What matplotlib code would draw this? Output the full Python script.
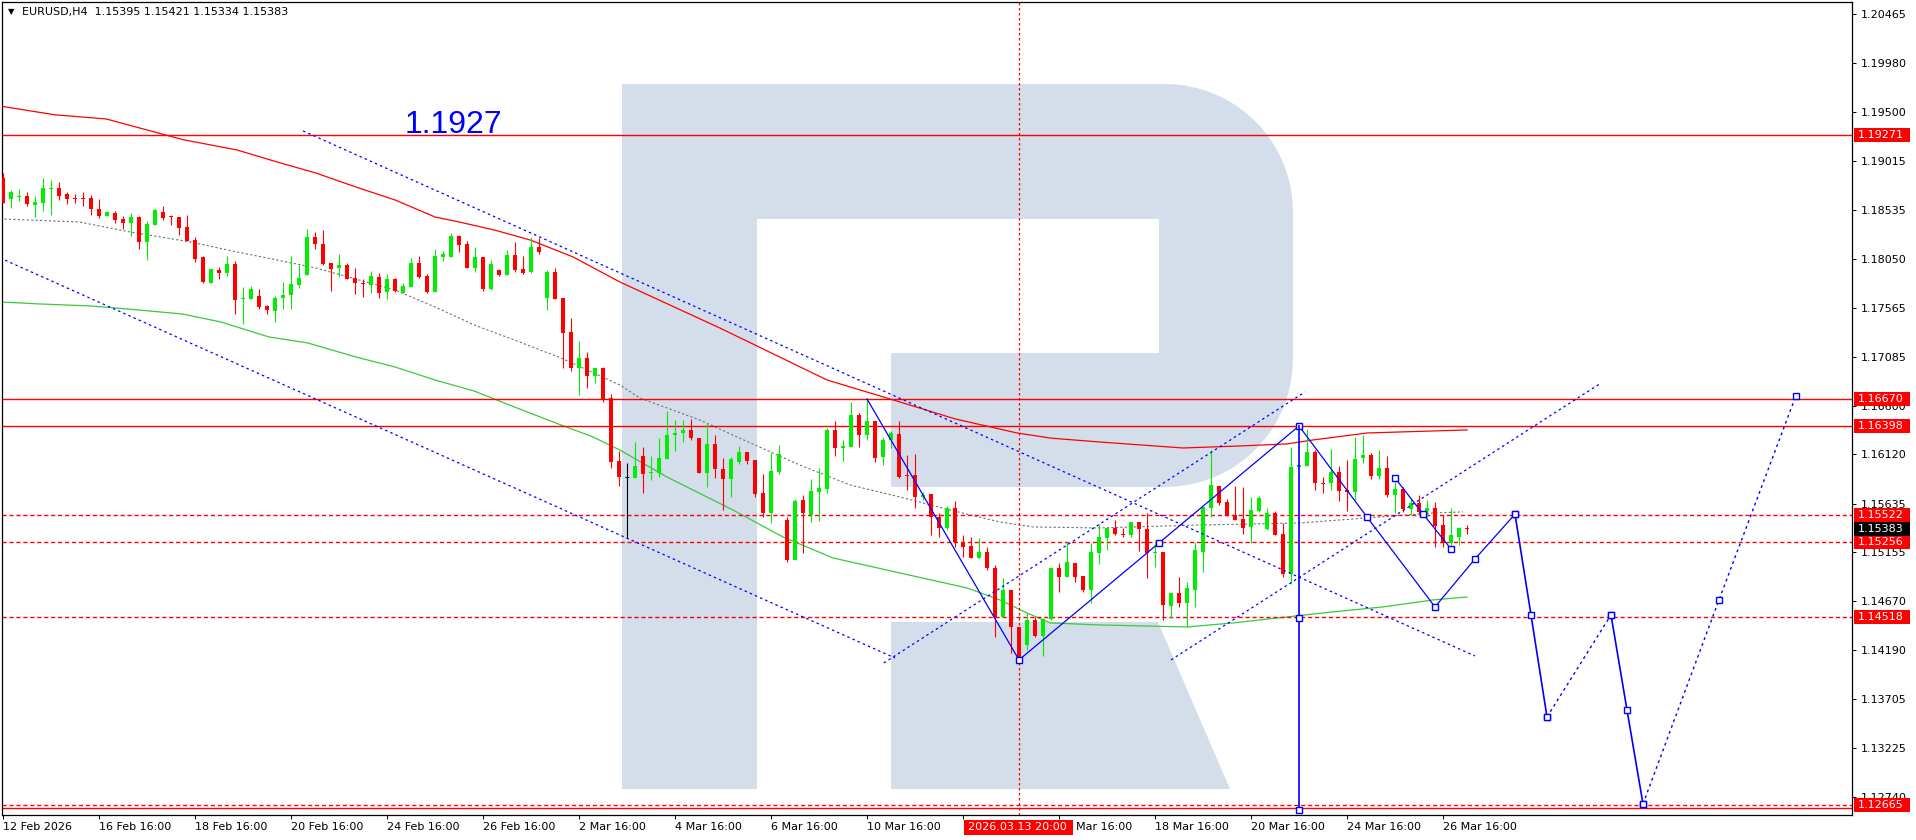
import matplotlib
matplotlib.use("Agg")
import matplotlib.pyplot as plt
import numpy as np
from matplotlib.patches import Rectangle, Polygon
from matplotlib import transforms

# ---- candles (EURUSD H4), bar index 0..183 ----
opens = [1.18843, 1.18643, 1.18662, 1.18669, 1.18583, 1.18603, 1.18738, 1.18748, 1.18689, 1.18646,
         1.18646, 1.18646, 1.18537, 1.18475, 1.18498, 1.18439, 1.18406, 1.18462, 1.18218, 1.18379,
         1.18511, 1.18465, 1.18458, 1.18360, 1.18235, 1.18064, 1.17814, 1.17939, 1.17906, 1.17998,
         1.17649, 1.17649, 1.17682, 1.17587, 1.17537, 1.17666, 1.17689, 1.17794, 1.17893, 1.18264,
         1.18195, 1.18004, 1.17955, 1.17988, 1.17860, 1.17810, 1.17794, 1.17870, 1.17718, 1.17853,
         1.17715, 1.17774, 1.18008, 1.17876, 1.17725, 1.18070, 1.18070, 1.18274, 1.18195, 1.17962,
         1.18067, 1.17751, 1.17939, 1.17893, 1.18087, 1.17949, 1.17922, 1.18169, 1.17666, 1.17919,
         1.17666, 1.17327, 1.16975, 1.17070, 1.16896, 1.16971, 1.16672, 1.16054, 1.15893, 1.15890,
         1.16104, 1.15933, 1.15939, 1.16078, 1.16308, 1.16328, 1.16361, 1.16278, 1.15939, 1.16222,
         1.15972, 1.15874, 1.16048, 1.16147, 1.16064, 1.15742, 1.15538, 1.15949, 1.15472, 1.15077,
         1.15670, 1.15521, 1.15752, 1.15778, 1.16361, 1.16186, 1.16196, 1.16509, 1.16311, 1.16449,
         1.16091, 1.16262, 1.16321, 1.15913, 1.15916, 1.15702, 1.15729, 1.15505, 1.15390, 1.15587,
         1.15252, 1.15216, 1.15094, 1.15160, 1.14995, 1.14518, 1.14781, 1.14413, 1.14239, 1.14485,
         1.14327, 1.14492, 1.14995, 1.14913, 1.15051, 1.14919, 1.14781, 1.15143, 1.15291, 1.15390,
         1.15334, 1.15324, 1.15449, 1.15380, 1.15143, 1.15153, 1.14627, 1.14748, 1.14650, 1.14781,
         1.15160, 1.15594, 1.15808, 1.15653, 1.15522, 1.15479, 1.15400, 1.15564, 1.15380, 1.15538,
         1.15334, 1.14936, 1.15992, 1.16005, 1.16147, 1.15834, 1.15834, 1.15949, 1.15768, 1.15752,
         1.16088, 1.16114, 1.15906, 1.15982, 1.15719, 1.15775, 1.15577, 1.15637, 1.15564, 1.15591,
         1.15420, 1.15249, 1.15308, 1.15395]
highs = [1.18899, 1.18728, 1.18735, 1.18708, 1.18669, 1.18847, 1.18827, 1.18807, 1.18708, 1.18689,
         1.18708, 1.18676, 1.18636, 1.18511, 1.18518, 1.18472, 1.18501, 1.18472, 1.18422, 1.18541,
         1.18570, 1.18478, 1.18465, 1.18481, 1.18268, 1.18077, 1.17949, 1.17965, 1.18077, 1.18031,
         1.17774, 1.17781, 1.17754, 1.17597, 1.17685, 1.17820, 1.18077, 1.17988, 1.18343, 1.18317,
         1.18333, 1.18004, 1.18097, 1.18004, 1.17958, 1.17847, 1.17925, 1.17912, 1.17899, 1.17863,
         1.17814, 1.18060, 1.18077, 1.17899, 1.18146, 1.18129, 1.18301, 1.18281, 1.18225, 1.18166,
         1.18067, 1.18037, 1.17952, 1.18136, 1.18215, 1.18077, 1.18261, 1.18254, 1.17939, 1.17958,
         1.17666, 1.17465, 1.17238, 1.17133, 1.16971, 1.16985, 1.16715, 1.16153, 1.16032, 1.16245,
         1.16190, 1.16104, 1.16285, 1.16548, 1.16459, 1.16459, 1.16466, 1.16278, 1.16433, 1.16311,
         1.16081, 1.16097, 1.16203, 1.16147, 1.16064, 1.15926, 1.16137, 1.16213, 1.15505, 1.15680,
         1.15719, 1.15874, 1.15982, 1.16377, 1.16449, 1.16262, 1.16640, 1.16532, 1.16663, 1.16449,
         1.16288, 1.16354, 1.16449, 1.16114, 1.16124, 1.15752, 1.15729, 1.15545, 1.15610, 1.15660,
         1.15324, 1.15301, 1.15298, 1.15209, 1.15028, 1.14896, 1.14781, 1.14413, 1.14551, 1.14511,
         1.14502, 1.14995, 1.15051, 1.15258, 1.15051, 1.14919, 1.15242, 1.15433, 1.15390, 1.15472,
         1.15390, 1.15456, 1.15456, 1.15545, 1.15242, 1.15153, 1.14748, 1.14913, 1.14864, 1.15258,
         1.15604, 1.16163, 1.15808, 1.15676, 1.15808, 1.15795, 1.15703, 1.15709, 1.15587, 1.15564,
         1.15446, 1.16196, 1.16015, 1.16367, 1.16163, 1.15900, 1.16170, 1.16005, 1.16064, 1.16295,
         1.16311, 1.16130, 1.16163, 1.16104, 1.15884, 1.15801, 1.15676, 1.15719, 1.15670, 1.15653,
         1.15522, 1.15587, 1.15406, 1.15421]
lows = [1.18597, 1.18554, 1.18623, 1.18570, 1.18465, 1.18521, 1.18478, 1.18630, 1.18587, 1.18597,
        1.18570, 1.18485, 1.18455, 1.18475, 1.18406, 1.18347, 1.18278, 1.18146, 1.18041, 1.18379,
        1.18432, 1.18379, 1.18281, 1.18228, 1.18014, 1.17810, 1.17814, 1.17847, 1.17883, 1.17508,
        1.17409, 1.17649, 1.17557, 1.17501, 1.17429, 1.17554, 1.17550, 1.17764, 1.17893, 1.18149,
        1.17988, 1.17735, 1.17870, 1.17853, 1.17705, 1.17675, 1.17708, 1.17666, 1.17656, 1.17721,
        1.17708, 1.17774, 1.17856, 1.17708, 1.17725, 1.18024, 1.18070, 1.18116, 1.17962, 1.17919,
        1.17735, 1.17738, 1.17883, 1.17893, 1.17919, 1.17899, 1.17906, 1.18093, 1.17544, 1.17656,
        1.16971, 1.16945, 1.16705, 1.16777, 1.16827, 1.16639, 1.15982, 1.15808, 1.15291, 1.15890,
        1.15742, 1.15867, 1.15893, 1.16078, 1.16157, 1.16245, 1.16262, 1.15933, 1.15801, 1.15883,
        1.15571, 1.15696, 1.16025, 1.16025, 1.15703, 1.15498, 1.15446, 1.15926, 1.15061, 1.15077,
        1.15143, 1.15456, 1.15466, 1.15742, 1.16104, 1.16058, 1.16196, 1.16196, 1.16262, 1.16048,
        1.16015, 1.16180, 1.15883, 1.15768, 1.15587, 1.15670, 1.15324, 1.15308, 1.15374, 1.15209,
        1.15110, 1.15094, 1.15094, 1.14979, 1.14314, 1.14511, 1.14156, 1.14091, 1.14189, 1.14321,
        1.14130, 1.14485, 1.14765, 1.14913, 1.14864, 1.14762, 1.14656, 1.15035, 1.15176, 1.15324,
        1.15308, 1.15308, 1.15170, 1.14896, 1.15012, 1.14485, 1.14502, 1.14617, 1.14420, 1.14617,
        1.14962, 1.15505, 1.15620, 1.15512, 1.15472, 1.15334, 1.15242, 1.15554, 1.15374, 1.15324,
        1.14906, 1.14841, 1.15992, 1.16005, 1.15768, 1.15742, 1.15768, 1.15663, 1.15564, 1.15670,
        1.16038, 1.15874, 1.15874, 1.15703, 1.15538, 1.15554, 1.15522, 1.15532, 1.15505, 1.15209,
        1.15209, 1.15226, 1.15226, 1.15334]
closes = [1.18597, 1.18708, 1.18672, 1.18590, 1.18610, 1.18748, 1.18745, 1.18672, 1.18643, 1.18643,
          1.18643, 1.18544, 1.18475, 1.18511, 1.18435, 1.18406, 1.18458, 1.18218, 1.18393, 1.18534,
          1.18455, 1.18462, 1.18356, 1.18228, 1.18051, 1.17820, 1.17949, 1.17912, 1.17998, 1.17646,
          1.17662, 1.17748, 1.17577, 1.17544, 1.17666, 1.17692, 1.17797, 1.17860, 1.18261, 1.18192,
          1.17998, 1.17952, 1.17988, 1.17853, 1.17814, 1.17797, 1.17876, 1.17715, 1.17853, 1.17735,
          1.17781, 1.18008, 1.17873, 1.17721, 1.18077, 1.18097, 1.18274, 1.18189, 1.17962, 1.18064,
          1.17751, 1.17998, 1.17889, 1.18083, 1.17939, 1.17909, 1.18162, 1.18116, 1.17919, 1.17656,
          1.17320, 1.16975, 1.17070, 1.16896, 1.16971, 1.16659, 1.16048, 1.15900, 1.15893, 1.16009,
          1.15926, 1.15946, 1.16081, 1.16311, 1.16334, 1.16361, 1.16278, 1.15939, 1.16222, 1.15972,
          1.15874, 1.16071, 1.16147, 1.16058, 1.15729, 1.15538, 1.15959, 1.16124, 1.15077, 1.15663,
          1.15538, 1.15758, 1.15791, 1.16361, 1.16186, 1.16203, 1.16509, 1.16311, 1.16449, 1.16081,
          1.16262, 1.16328, 1.15900, 1.15906, 1.15702, 1.15719, 1.15498, 1.15390, 1.15587, 1.15252,
          1.15209, 1.15094, 1.15160, 1.14995, 1.14518, 1.14781, 1.14413, 1.14124, 1.14485, 1.14327,
          1.14492, 1.14995, 1.14913, 1.15054, 1.14913, 1.14781, 1.15160, 1.15301, 1.15390, 1.15334,
          1.15324, 1.15456, 1.15380, 1.15143, 1.15153, 1.14633, 1.14748, 1.14650, 1.14798, 1.15176,
          1.15597, 1.15814, 1.15637, 1.15512, 1.15472, 1.15397, 1.15571, 1.15693, 1.15538, 1.15324,
          1.14936, 1.15992, 1.16015, 1.16147, 1.15841, 1.15828, 1.15949, 1.15758, 1.15752, 1.16074,
          1.16114, 1.15906, 1.15982, 1.15719, 1.15782, 1.15577, 1.15637, 1.15554, 1.15591, 1.15413,
          1.15249, 1.15324, 1.15397, 1.15383]

# ---- moving averages ----
red_ma_x = [-0.4, 6.5, 12.9, 22.5, 29.25, 34.25, 39.1, 44.1, 49, 54, 57, 61.4, 65.9, 71.25, 77.1,
            89.6, 103, 112.1, 119, 126.75, 131, 137.1, 147.5, 154.6, 160.5, 163.75, 170.5, 183]
red_ma_y = [1.19557, 1.19470, 1.19429, 1.19225, 1.19123, 1.19005, 1.18896, 1.18758, 1.18630, 1.18462,
            1.18413, 1.18334, 1.18235, 1.18068, 1.17821, 1.17367, 1.16854, 1.16637, 1.16470, 1.16331,
            1.16280, 1.16242, 1.16183, 1.16203, 1.16223, 1.16262, 1.16331, 1.16361]
gray_ma_x = [-0.375, 9.5, 15.9, 23.4, 29.25, 34.25, 39.1, 49, 54, 58.9, 63.9, 69.75, 77.1, 79.6,
             87.1, 93.4, 99.6, 105.9, 112.1, 118.4, 124.6, 128.75, 137.1, 149.6, 162.1, 170.5, 178.75, 182.5]
gray_ma_y = [1.18443, 1.18413, 1.18314, 1.18216, 1.18117, 1.18038, 1.17959, 1.17742, 1.17574, 1.17397,
             1.17249, 1.17071, 1.16805, 1.16676, 1.16459, 1.16233, 1.16015, 1.15818, 1.15700, 1.15571,
             1.15453, 1.15404, 1.15394, 1.15423, 1.15443, 1.15493, 1.15542, 1.15552]
green_ma_x = [-0.375, 4.6, 11, 16.9, 22.4, 27.25, 33.25, 38.1, 44.1, 49, 54, 58.9, 63.9, 69.75, 73.75,
              77.1, 83, 91.25, 97.5, 103.75, 112.1, 120.5, 124.6, 128, 130.9, 137.1, 148, 153.75,
              160.5, 166.25, 172.5, 178.75, 183]
green_ma_y = [1.17624, 1.17604, 1.17584, 1.17545, 1.17505, 1.17426, 1.17278, 1.17219, 1.17081, 1.16982,
              1.16854, 1.16745, 1.16588, 1.16410, 1.16292, 1.16163, 1.15897, 1.15571, 1.15305, 1.15098,
              1.14950, 1.14802, 1.14684, 1.14555, 1.14457, 1.14437, 1.14417, 1.14457, 1.14516, 1.14566,
              1.14615, 1.14684, 1.14713]

# ---- levels ----
solid_levels = [1.19271, 1.16670, 1.16398, 1.12632]
dashed_levels = [1.15522, 1.15256, 1.14518, 1.12665]
red_boxes = [1.19271, 1.16670, 1.16398, 1.15522, 1.15256, 1.14518, 1.12665]
last_price = 1.15383
y_ticks = [1.20465, 1.19980, 1.19500, 1.19015, 1.18535, 1.18050, 1.17565, 1.17085, 1.16600,
           1.16120, 1.15635, 1.15155, 1.14670, 1.14190, 1.13705, 1.13225, 1.12740]
x_tick_bars = list(range(0, 181, 12))
# "12 Mar 16:00" sits under the cursor box and "16 " of the next one too
x_tick_labels = ["12 Feb 2026", "16 Feb 16:00", "18 Feb 16:00", "20 Feb 16:00", "24 Feb 16:00",
                 "26 Feb 16:00", "2 Mar 16:00", "4 Mar 16:00", "6 Mar 16:00", "10 Mar 16:00",
                 "", "", "18 Mar 16:00", "20 Mar 16:00", "24 Mar 16:00", "26 Mar 16:00"]
partial_label = "Mar 16:00"
cursor_bar = 127
cursor_label = "2026.03.13 20:00"

# ---- channel lines (x: bar, y: price) ----
channels = [
    ([37.5, 184.0], [1.19311, 1.14131]),
    ([-0.375, 111.5], [1.18058, 1.14111]),
    ([110.1, 162.75], [1.14062, 1.16736]),
    ([146.0, 199.75], [1.14092, 1.16824]),
]
# ---- wave drawing ----
zz_x = [108, 127, 144.5, 162, 170.5, 179, 184, 189]
zz_y = [1.16667, 1.14092, 1.15246, 1.16400, 1.15502, 1.14615, 1.15088, 1.15530]
seg_x = [174, 177.5, 181]
seg_y = [1.15887, 1.15532, 1.15187]
vert_x = [162, 162, 162]
vert_y = [1.16400, 1.14506, 1.12612]
proj_solid = [([189, 191, 193], [1.15530, 1.14536, 1.13529]),
              ([201, 203, 205], [1.14536, 1.13598, 1.12671])]
proj_dot = [([193, 201], [1.13529, 1.14536]),
            ([205, 214.5, 224.1], [1.12671, 1.14684, 1.16696])]

W, H = 1916, 840
fig = plt.figure(figsize=(W / 100, H / 100), dpi=100, facecolor="white")

# background logo, drawn in figure pixels
bg = fig.add_axes([0, 0, 1, 1], zorder=0)
bg.set_xlim(0, W)
bg.set_ylim(H, 0)
bg.axis("off")
r = 128
t1 = np.linspace(0, np.pi / 2, 20)
t2 = np.linspace(np.pi / 2, np.pi, 20)
verts = [(622, 84), (1165, 84)]
verts += [(1165 + r * np.sin(t), 212 - r * np.cos(t)) for t in t1]
verts += [(1165 + r * np.sin(t), 359 - r * np.cos(t)) for t in t2]
verts += [(891, 487), (891, 353), (1159, 353), (1159, 219), (757, 219), (757, 789), (622, 789), (622, 84)]
logo = "#d3deea"
bg.add_patch(Polygon(verts, closed=True, facecolor=logo, edgecolor="none"))
bg.add_patch(Polygon([(891, 622), (1158, 622), (1230, 789), (891, 789)], closed=True,
                     facecolor=logo, edgecolor="none"))

ax = fig.add_axes([2 / W, 25 / H, 1850 / W, 813 / H], zorder=1)
ax.set_facecolor("none")
y_lo, y_hi = 1.12562, 1.20583
ax.set_xlim(-0.125, 231.125)
ax.set_ylim(y_lo, y_hi)
px = (y_hi - y_lo) / 813.0

o = np.array(opens); h = np.array(highs); l = np.array(lows); c = np.array(closes)
x = np.arange(len(o))
green, red = "#00ee00", "#ff0000"
up, dn, dj = c > o, c < o, c == o
ax.vlines(x[up], l[up], h[up], color=green, lw=0.8, zorder=3)
ax.vlines(x[dn], l[dn], h[dn], color=red, lw=0.8, zorder=3)
ax.vlines(x[dj], l[dj], h[dj], color="black", lw=0.8, zorder=3)
ax.bar(x[up], np.maximum(c - o, px)[up], bottom=o[up], width=0.6, color=green, zorder=3, antialiased=False)
ax.bar(x[dn], np.maximum(o - c, px)[dn], bottom=c[dn], width=0.6, color=red, zorder=3, antialiased=False)
ax.hlines(o[dj], x[dj] - 0.3, x[dj] + 0.3, color="black", lw=0.8, zorder=3)

ax.plot(red_ma_x, red_ma_y, color="#ff0000", lw=0.9, zorder=2)
ax.plot(gray_ma_x, gray_ma_y, color="#707070", lw=0.8, ls=(0, (2, 2)), zorder=2)
ax.plot(green_ma_x, green_ma_y, color="#3cc83c", lw=0.9, zorder=2)

for lv in solid_levels:
    ax.axhline(lv, color="#ff0000", lw=1.0, zorder=2)
for lv in dashed_levels:
    ax.axhline(lv, color="#ff0000", lw=1.0, ls=(0, (3, 2)), zorder=2)
ax.axvline(cursor_bar, color="#ff0000", lw=0.9, ls=(0, (2, 2)), zorder=2)

for cx, cy in channels:
    ax.plot(cx, cy, color="#0000ff", lw=0.9, ls=(0, (2, 2.5)), zorder=4)

blue = "#0000ff"
mk = dict(marker="s", ms=4, mfc="white", mec=blue, mew=1.0)
ax.plot(zz_x, zz_y, color=blue, lw=0.9, markevery=list(range(1, len(zz_x))), zorder=5, **mk)
ax.plot(seg_x, seg_y, color=blue, lw=0.9, zorder=5, **mk)
ax.plot(vert_x, vert_y, color=blue, lw=1.2, markevery=[1, 2], zorder=5, **mk)
for sx, sy in proj_solid:
    ax.plot(sx, sy, color=blue, lw=1.2, zorder=5, **mk)
for sx, sy in proj_dot:
    ax.plot(sx, sy, color=blue, lw=1.0, ls=(0, (2, 2.5)), zorder=5, **mk)

ax.text(50.25, 1.19291, "1.1927", color=blue, fontsize=23, family="Liberation Sans",
        va="baseline", ha="left", zorder=6)

# axes styling
for s in ax.spines.values():
    s.set_color("black")
    s.set_linewidth(0.9)
ax.yaxis.tick_right()
ax.set_yticks(y_ticks)
ax.set_yticklabels([f"{v:.5f}" for v in y_ticks])
ax.tick_params(axis="y", length=3, width=0.7, pad=3, labelsize=8, colors="black")
ax.set_xticks(x_tick_bars)
ax.set_xticklabels(x_tick_labels, ha="left")
ax.tick_params(axis="x", length=3, width=0.7, pad=2, labelsize=8, colors="black")

# price boxes on the right scale
bt = transforms.blended_transform_factory(fig.transFigure, ax.transData)
def price_box(price, fc):
    ax.add_patch(Rectangle((1854 / W, price - 7 * px), 56 / W, 14 * px, transform=bt,
                           facecolor=fc, edgecolor="none", clip_on=False, zorder=8))
    ax.text(1858 / W, price, f"{price:.5f}", transform=bt, color="white", fontsize=8,
            va="center", ha="left", clip_on=False, zorder=9)
for p in red_boxes:
    price_box(p, "#ff0000")
price_box(last_price, "black")

# cursor date box and the visible part of the label behind it
fig.add_artist(Rectangle((964 / W, 1 - 835 / H), 109 / W, 15 / H, transform=fig.transFigure,
                         facecolor="#ff0000", edgecolor="none", zorder=8))
fig.text(968 / W, 1 - 827.5 / H, cursor_label, color="white", fontsize=8, va="center", ha="left", zorder=9)
fig.text(1076 / W, 1 - 827.5 / H, partial_label, color="black", fontsize=8, va="center", ha="left")

# header
fig.text(22 / W, 1 - 12 / H, "EURUSD,H4  1.15395 1.15421 1.15334 1.15383", fontsize=8,
         va="center", ha="left", color="black")
fig.text(8 / W, 1 - 12 / H, "\u25bc", fontsize=6, va="center", ha="left", color="black")

fig.savefig("out.png", dpi=100, facecolor="white")
